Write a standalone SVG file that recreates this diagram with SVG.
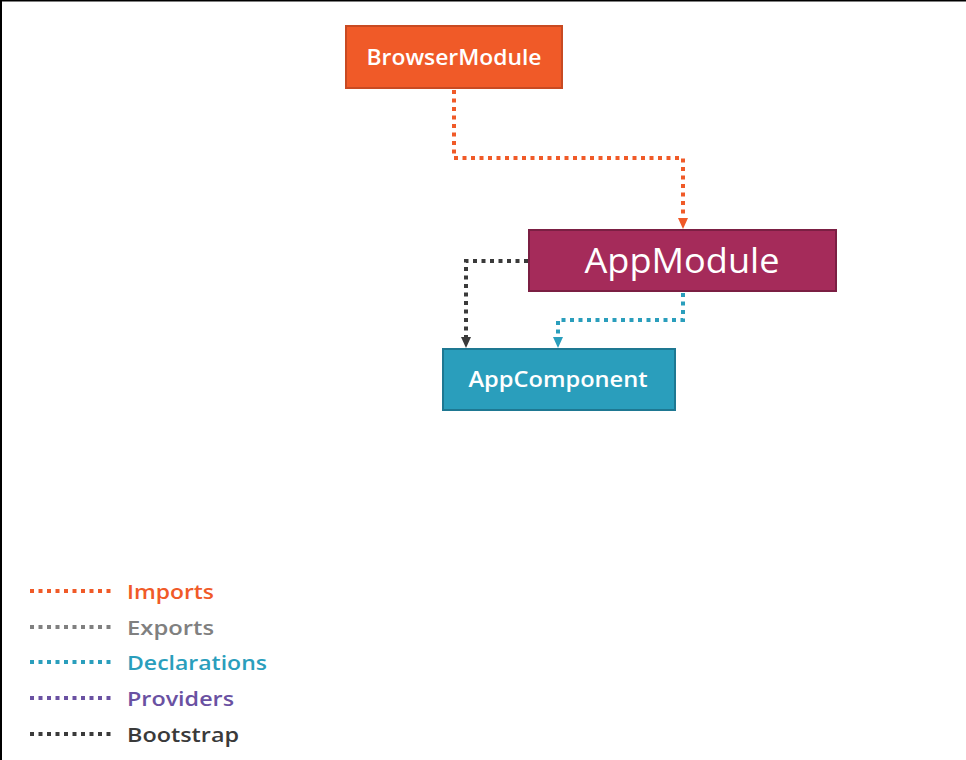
<svg xmlns="http://www.w3.org/2000/svg" width="966" height="760" viewBox="0 0 966 760">
<style>
.node text{font-family:"Open Sans","Noto Sans","Liberation Sans",sans-serif;font-weight:600;fill:#fff;text-anchor:middle}
.node text.big{font-weight:400}
.lg text{font-family:"Open Sans","Noto Sans","Liberation Sans",sans-serif;font-weight:600;font-size:20px}
.dot{fill:none;stroke-width:4;stroke-dasharray:4 4.5}
</style>
<rect x="0" y="0" width="966" height="760" fill="#fff"/>
<rect x="0" y="0" width="966" height="1.5" fill="#000"/>
<rect x="0" y="0" width="2" height="760" fill="#000"/>
<g id="connectors">
<path class="dot" stroke="#F05A28" d="M454 90V158H683V218"/>
<path d="M678 218L688 218L683 229Z" fill="#F05A28"/>
<path class="dot" stroke="#3A3A3A" d="M528 261H466V337"/>
<path d="M461 337L471 337L466 348Z" fill="#3A3A3A"/>
<path class="dot" stroke="#2A9EBC" d="M683 293V320H558V337"/>
<path d="M553 337L563 337L558 348Z" fill="#2A9EBC"/>
</g>
<g id="BrowserModule" class="node">
<rect x="346" y="26" width="216" height="62" fill="#F05A28" stroke="#C84A22" stroke-width="2"/>
<text x="454" y="65" font-size="21" textLength="175" lengthAdjust="spacingAndGlyphs">BrowserModule</text>
</g>
<g id="AppModule" class="node">
<rect x="529" y="230" width="307" height="61" fill="#A52B5A" stroke="#7B1F43" stroke-width="2"/>
<text class="big" x="682" y="273" font-size="34" textLength="195" lengthAdjust="spacingAndGlyphs">AppModule</text>
</g>
<g id="AppComponent" class="node">
<rect x="443" y="349" width="232" height="61" fill="#2A9EBC" stroke="#1E7892" stroke-width="2"/>
<text x="558" y="387" font-size="21" textLength="179" lengthAdjust="spacingAndGlyphs">AppComponent</text>
</g>
<g id="legend" class="lg">
<path class="dot" stroke="#F05A28" d="M30 591H111"/>
<text x="127" y="599" fill="#F05A28" textLength="87" lengthAdjust="spacingAndGlyphs">Imports</text>
<path class="dot" stroke="#808080" d="M30 627H111"/>
<text x="127" y="635" fill="#808080" textLength="87" lengthAdjust="spacingAndGlyphs">Exports</text>
<path class="dot" stroke="#2A9EBC" d="M30 662H111"/>
<text x="127" y="670" fill="#2A9EBC" textLength="140" lengthAdjust="spacingAndGlyphs">Declarations</text>
<path class="dot" stroke="#6A51A2" d="M30 698H111"/>
<text x="127" y="706" fill="#6A51A2" textLength="107" lengthAdjust="spacingAndGlyphs">Providers</text>
<path class="dot" stroke="#3A3A3A" d="M30 734H111"/>
<text x="127" y="742" fill="#3A3A3A" textLength="112" lengthAdjust="spacingAndGlyphs">Bootstrap</text>
</g>
</svg>
